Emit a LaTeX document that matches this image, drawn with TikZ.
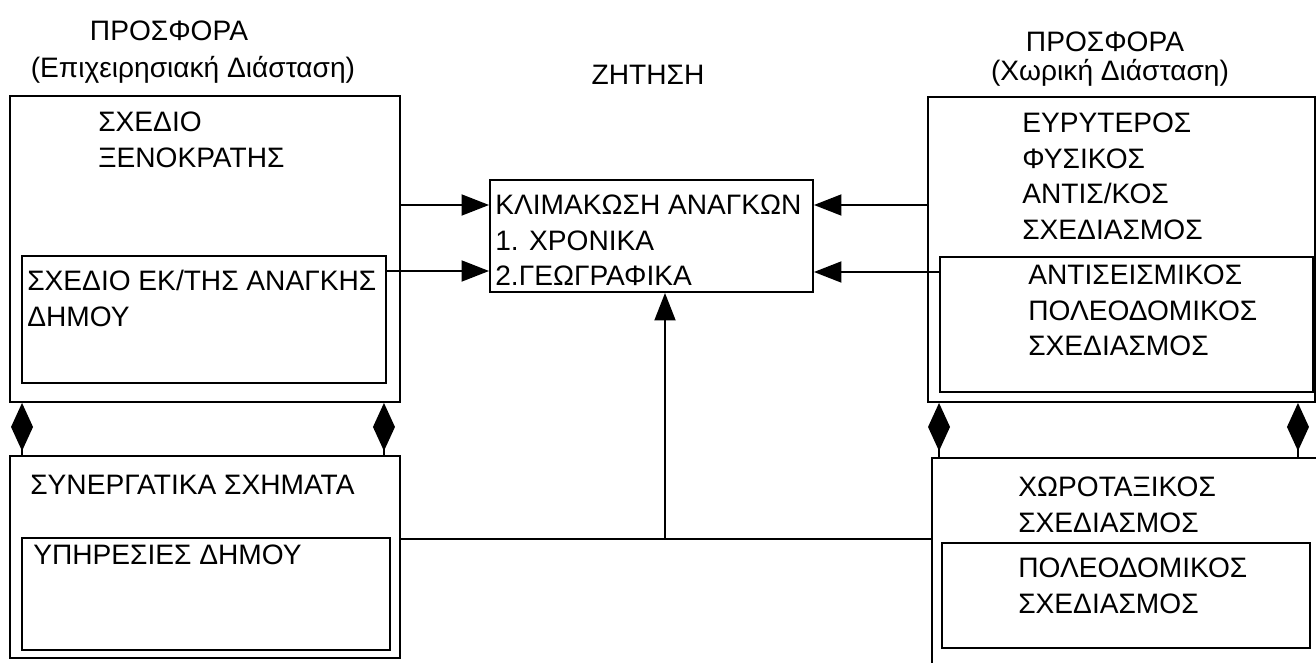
\documentclass[tikz,border=0pt]{standalone}
\usepackage{fontspec}
\setmainfont{Liberation Sans}
\usetikzlibrary{arrows.meta}

\begin{document}
\begin{tikzpicture}[
box/.style={rectangle, draw, line width=1.1pt, inner sep=0pt},
txt/.style={anchor=north west, inner sep=0pt, align=left, font=\fontsize{16}{20.2}\selectfont},
head/.style={inner sep=0pt, font=\fontsize{16}{20}\selectfont},
link/.style={line width=1.1pt},
arr/.style={line width=1.1pt, -{Triangle[length=5.5mm, width=4.2mm]}},
agg/.style={line width=1.1pt, {Diamond[length=9.6mm, width=4.4mm]}-}
]
\useasboundingbox (0,0) rectangle (26.32,-13.26);
\clip (0,0) rectangle (26.32,-13.26);

% titles
\node[head] (offerttl) at (3.38,-0.62) {ΠΡΟΣΦΟΡΑ};
\node[head] (offersub) at (3.86,-1.4) {(Επιχειρησιακή Διάσταση)};
\node[head] (demandttl) at (12.96,-1.5) {ΖΗΤΗΣΗ};
\node[head] (spacettl) at (22.1,-0.84) {ΠΡΟΣΦΟΡΑ};
\node[head] (spacesub) at (22.2,-1.46) {(Χωρική Διάσταση)};

% boxes
\node[box, minimum width=7.8cm, minimum height=6.12cm] (offer) at (4.1,-4.98) {};
\node[box, minimum width=7.28cm, minimum height=2.54cm] (offerin) at (4.08,-6.39) {};
\node[box, minimum width=7.8cm, minimum height=4.04cm] (coop) at (4.1,-11.14) {};
\node[box, minimum width=7.36cm, minimum height=2.24cm] (coopin) at (4.12,-11.88) {};
\node[box, minimum width=6.46cm, minimum height=2.24cm] (demand) at (13.03,-4.72) {};
\node[box, minimum width=7.74cm, minimum height=6.1cm] (space) at (22.43,-4.99) {};
\node[box, minimum width=7.46cm, minimum height=2.7cm] (spacein) at (22.53,-6.49) {};
\node[box, minimum width=8.16cm, minimum height=4.64cm] (region) at (22.72,-11.48) {};
\node[box, minimum width=7.36cm, minimum height=2.1cm] (regionin) at (22.52,-11.91) {};

% box texts
\node[txt] (offertxt) at (1.96,-2.24) {ΣΧΕΔΙΟ\\ΞΕΝΟΚΡΑΤΗΣ};
\node[txt] (offerintxt) at (0.54,-5.4) {ΣΧΕΔΙΟ ΕΚ/ΤΗΣ ΑΝΑΓΚΗΣ\\ΔΗΜΟΥ};
\node[txt] (cooptxt) at (0.6,-9.5) {ΣΥΝΕΡΓΑΤΙΚΑ ΣΧΗΜΑΤΑ};
\node[txt] (coopintxt) at (0.66,-10.9) {ΥΠΗΡΕΣΙΕΣ ΔΗΜΟΥ};
\node[txt] (demandtxt) at (9.9,-3.9) {ΚΛΙΜΑΚΩΣΗ ΑΝΑΓΚΩΝ\\1. ΧΡΟΝΙΚΑ\\2.ΓΕΩΓΡΑΦΙΚΑ};
\node[txt] (spacetxt) at (20.44,-2.26) {ΕΥΡΥΤΕΡΟΣ\\ΦΥΣΙΚΟΣ\\ΑΝΤΙΣ/ΚΟΣ\\ΣΧΕΔΙΑΣΜΟΣ};
\node[txt] (spaceintxt) at (20.56,-5.3) {ΑΝΤΙΣΕΙΣΜΙΚΟΣ\\ΠΟΛΕΟΔΟΜΙΚΟΣ\\ΣΧΕΔΙΑΣΜΟΣ};
\node[txt] (regiontxt) at (20.36,-9.54) {ΧΩΡΟΤΑΞΙΚΟΣ\\ΣΧΕΔΙΑΣΜΟΣ};
\node[txt] (regionintxt) at (20.36,-11.16) {ΠΟΛΕΟΔΟΜΙΚΟΣ\\ΣΧΕΔΙΑΣΜΟΣ};

% arrows into the demand box
\coordinate (d1w) at ([yshift=0.62cm]demand.west);
\coordinate (d2w) at ([yshift=-0.7cm]demand.west);
\coordinate (d1e) at ([yshift=0.62cm]demand.east);
\coordinate (d2e) at ([yshift=-0.72cm]demand.east);
\draw[arr] (offer.east |- d1w) -- (d1w);
\draw[arr] (offerin.east |- d2w) -- (d2w);
\draw[arr] (space.west |- d1e) -- (d1e);
\draw[arr] (spacein.west |- d2e) -- (d2e);

\coordinate (bus) at (13.3,-10.78);
\draw[link] (coop.east |- bus) -- (region.west |- bus);
\draw[arr] (bus) -- (bus |- demand.south);

% aggregation links
\coordinate (a1) at ([xshift=0.26cm]offer.south west);
\coordinate (a2) at ([xshift=-0.34cm]offer.south east);
\coordinate (a3) at ([xshift=0.24cm]space.south west);
\coordinate (a4) at ([xshift=-0.36cm]space.south east);
\draw[agg] (a1) -- (a1 |- coop.north);
\draw[agg] (a2) -- (a2 |- coop.north);
\draw[agg] (a3) -- (a3 |- region.north);
\draw[agg] (a4) -- (a4 |- region.north);
\end{tikzpicture}
\end{document}
